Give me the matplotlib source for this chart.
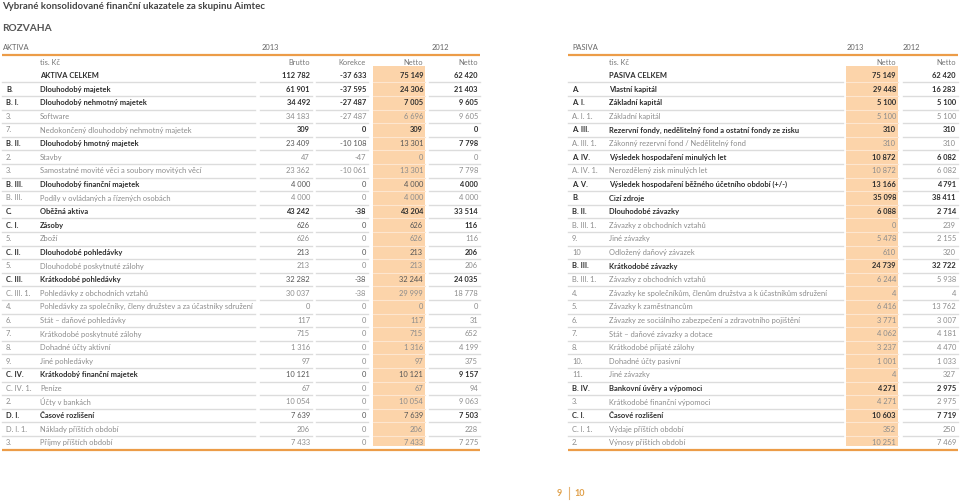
import matplotlib.pyplot as plt

plt.rcParams['font.family'] = ['Lato', 'DejaVu Sans']

# ---- data: AKTIVA (tis. Kč) ----
aktiva_codes = ["", "B.", "B. I.", "3.", "7.", "B. II.", "2.", "3.", "B. III.", "B. III.",
                "C.", "C. I.", "5.", "C. II.", "5.", "C. III.", "C. III. 1.", "4.", "6.", "7.",
                "8.", "9.", "C. IV.", "C. IV. 1.", "2.", "D. I.", "D. I. 1.", "3."]
aktiva_names = ["AKTIVA CELKEM", "Dlouhodobý majetek", "Dlouhodobý nehmotný majetek", "Software",
                "Nedokončený dlouhodobý nehmotný majetek", "Dlouhodobý hmotný majetek", "Stavby",
                "Samostatné movité věci a soubory movitých věcí", "Dlouhodobý finanční majetek",
                "Podíly v ovládaných a řízených osobách", "Oběžná aktiva", "Zásoby", "Zboží",
                "Dlouhodobé pohledávky", "Dlouhodobé poskytnuté zálohy", "Krátkodobé pohledávky",
                "Pohledávky z obchodních vztahů",
                "Pohledávky za společníky, členy družstev a za účastníky sdružení",
                "Stát – daňové pohledávky", "Krátkodobé poskytnuté zálohy", "Dohadné účty aktivní",
                "Jiné pohledávky", "Krátkodobý finanční majetek", "Peníze", "Účty v bankách",
                "Časové rozlišení", "Náklady příštích období", "Příjmy příštích období"]
aktiva_brutto = [112782, 61901, 34492, 34183, 309, 23409, 47, 23362, 4000, 4000,
                 43242, 626, 626, 213, 213, 32282, 30037, 0, 117, 715,
                 1316, 97, 10121, 67, 10054, 7639, 206, 7433]
aktiva_korekce = [-37633, -37595, -27487, -27487, 0, -10108, -47, -10061, 0, 0,
                  -38, 0, 0, 0, 0, -38, -38, 0, 0, 0,
                  0, 0, 0, 0, 0, 0, 0, 0]
aktiva_netto_2013 = [75149, 24306, 7005, 6696, 309, 13301, 0, 13301, 4000, 4000,
                     43204, 626, 626, 213, 213, 32244, 29999, 0, 117, 715,
                     1316, 97, 10121, 67, 10054, 7639, 206, 7433]
aktiva_netto_2012 = [62420, 21403, 9605, 9605, 0, 7798, 0, 7798, 4000, 4000,
                     33514, 116, 116, 206, 206, 24035, 18778, 0, 31, 652,
                     4199, 375, 9157, 94, 9063, 7503, 228, 7275]
# B = bold row, H = bold label / bold 2012 only, N = normal, V = normal label / bold values
aktiva_style = "BBBNVHNNHNBHNHNHNNNNNNHNNHNN"

# ---- data: PASIVA (tis. Kč) ----
pasiva_codes = ["", "A.", "A. I.", "A. I. 1.", "A. III.", "A. III. 1.", "A. IV.", "A. IV. 1.",
                "A. V.", "B.", "B. II.", "B. III. 1.", "9.", "10", "B. III.", "B. III. 1.",
                "4.", "5.", "6.", "7.", "8.", "10.", "11.", "B. IV.", "3.", "C. I.", "C. I. 1.", "2."]
pasiva_names = ["PASIVA CELKEM", "Vlastní kapitál", "Základní kapitál", "Základní kapitál",
                "Rezervní fondy, nedělitelný fond a ostatní fondy ze zisku",
                "Zákonný rezervní fond / Nedělitelný fond", "Výsledek hospodaření minulých let",
                "Nerozdělený zisk minulých let",
                "Výsledek hospodaření běžného účetního období (+/-)", "Cizí zdroje",
                "Dlouhodobé závazky", "Závazky z obchodních vztahů", "Jiné závazky",
                "Odložený daňový závazek", "Krátkodobé závazky", "Závazky z obchodních vztahů",
                "Závazky ke společníkům, členům družstva a k účastníkům sdružení",
                "Závazky k zaměstnancům", "Závazky ze sociálního zabezpečení a zdravotního pojištění",
                "Stát – daňové závazky a dotace", "Krátkodobé přijaté zálohy", "Dohadné účty pasivní",
                "Jiné závazky", "Bankovní úvěry a výpomoci", "Krátkodobé finanční výpomoci",
                "Časové rozlišení", "Výdaje příštích období", "Výnosy příštích období"]
pasiva_netto_2013 = [75149, 29448, 5100, 5100, 310, 310, 10872, 10872, 13166, 35098,
                     6088, 0, 5478, 610, 24739, 6244, 4, 6416, 3771, 4062,
                     3237, 1001, 4, 4271, 4271, 10603, 352, 10251]
pasiva_netto_2012 = [62420, 16283, 5100, 5100, 310, 310, 6082, 6082, 4791, 38411,
                     2714, 239, 2155, 320, 32722, 5938, 4, 13762, 3007, 4181,
                     4470, 1033, 327, 2975, 2975, 7719, 250, 7469]
pasiva_style = "BBBNBNBNBBBNNNBNNNNNNNNBNBNN"

ORANGE = "#ec9c48"
PEACH = "#fcd4aa"
SEP = "#dcdcdc"
DARK = "#2e2e2e"
GREY = "#8c8c8c"
FS = 5.4


def fmt(v):
    s = f"{abs(v):,}".replace(",", " ")
    return ("-" if v < 0 else "") + s


fig = plt.figure(figsize=(9.6, 5.03), dpi=100)
ax = fig.add_axes([0, 0, 1, 1])
ax.set_xlim(0, 960)
ax.set_ylim(503, 0)
ax.axis("off")

ax.text(2, 6, "Vybrané konsolidované finanční ukazatele za skupinu Aimtec",
        fontsize=6.9, fontweight="bold", color="#444444", va="center")
ax.text(2, 28.5, "ROZVAHA", fontsize=7.3, fontweight="bold", color="#555555", va="center")

y0, dy = 75.6, 13.6


def draw_table(codes, names, values, style, x_code, x_name, label_seg, cols, hl_col,
               header, years, col_titles):
    n = len(names)
    top, bottom = 54.5, y0 + (n - 1) * dy + 7.2
    # header
    ax.text(header[0], 47, header[1], fontsize=FS, color="#666666", va="center")
    for xy, yr in years:
        ax.text(xy, 47, yr, fontsize=FS, color="#666666", va="center")
    ax.plot([label_seg[0], cols[-1][1]], [top, top], color=ORANGE, lw=1.6,
            solid_capstyle="butt")
    ax.plot([label_seg[0], cols[-1][1]], [bottom + 0.5, bottom + 0.5], color=ORANGE, lw=1.6,
            solid_capstyle="butt")
    ax.text(x_name, 62, "tis. Kč", fontsize=FS, color="#777777", va="center")
    for (c0, c1), t in zip(cols, col_titles):
        ax.text(c1 - 2, 62, t, fontsize=FS, color="#777777", va="center", ha="right")
    # highlight column
    h0, h1 = cols[hl_col]
    ax.fill_between([h0, h1], y0 - 10, bottom - 4, color=PEACH, lw=0, zorder=0)
    for i in range(n):
        y = y0 + i * dy
        st = style[i]
        lab_bold = st in "BH"
        lab_col = DARK if lab_bold else GREY
        w = "bold" if lab_bold else "normal"
        ax.text(x_code, y, codes[i], fontsize=FS, color=lab_col, fontweight=w, va="center")
        ax.text(x_name, y, names[i], fontsize=FS, color=lab_col, fontweight=w, va="center")
        for j, ((c0, c1), v) in enumerate(zip(cols, values)):
            last = j == len(cols) - 1
            if st in "BV" or (st == "H" and last):
                vc, vw = DARK, "bold"
            elif st == "H":
                vc, vw = "#555555", "normal"
            else:
                vc, vw = GREY, "normal"
            ax.text(c1 - 2, y, fmt(v[i]), fontsize=FS, color=vc, fontweight=vw,
                    va="center", ha="right")
        if i < n - 1:
            ys = y + dy / 2
            ax.plot(label_seg, [ys, ys], color=SEP, lw=1.0)
            for j, (c0, c1) in enumerate(cols):
                if j == hl_col:
                    ax.plot([c0, c1], [ys, ys], color="#fde6cf", lw=0.8)
                else:
                    ax.plot([c0, c1], [ys, ys], color=SEP, lw=1.0)


draw_table(aktiva_codes, aktiva_names,
           [aktiva_brutto, aktiva_korekce, aktiva_netto_2013, aktiva_netto_2012],
           aktiva_style, 6, 40, [2, 255],
           [(260, 312), (316, 368), (373, 425), (429, 480)], 2,
           (3, "AKTIVA"), [(262, "2013"), (432, "2012")],
           ["Brutto", "Korekce", "Netto", "Netto"])

draw_table(pasiva_codes, pasiva_names,
           [pasiva_netto_2013, pasiva_netto_2012],
           pasiva_style, 572, 609, [568, 843],
           [(846, 898), (903, 958)], 0,
           (572, "PASIVA"), [(847, "2013"), (903, "2012")],
           ["Netto", "Netto"])

# page numbers
ax.text(562, 493, "9", fontsize=6.5, fontweight="bold", color="#e0a04a", va="center", ha="right")
ax.plot([568.5, 568.5], [487, 499], color="#e6b476", lw=0.8)
ax.text(574, 493, "10", fontsize=6.5, fontweight="bold", color="#e0a04a", va="center")

fig.savefig("out.png", dpi=100)
